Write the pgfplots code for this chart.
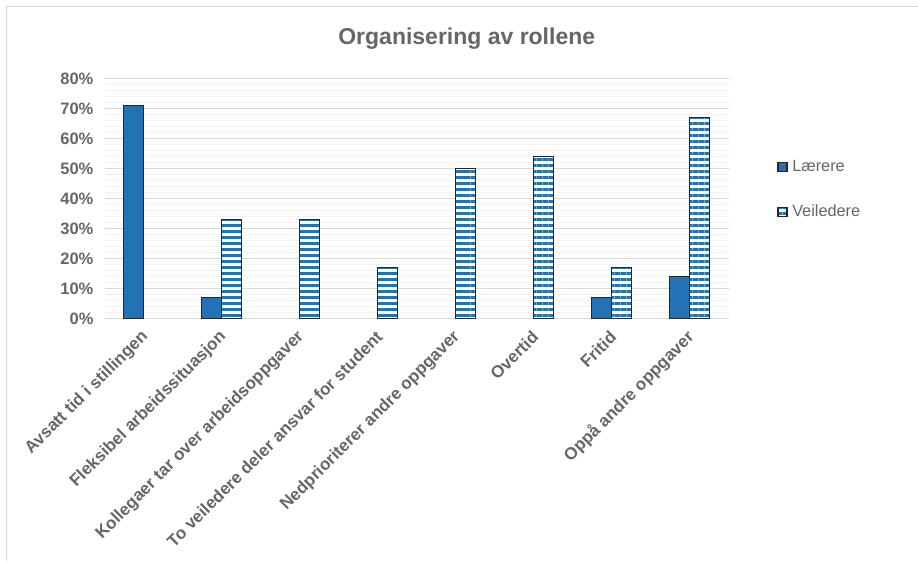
\documentclass[border=0pt]{standalone}
\usepackage{fontspec}
\setmainfont{Liberation Sans}
\usepackage{pgfplots}
\pgfplotsset{compat=1.18}
\usetikzlibrary{patterns.meta}
\definecolor{barblue}{RGB}{35,114,182}
\definecolor{txtgray}{RGB}{102,102,102}
\definecolor{gridmaj}{RGB}{217,217,217}
\definecolor{gridmin}{RGB}{242,242,242}
\definecolor{edge}{RGB}{38,38,38}
\begin{document}
\begin{tikzpicture}[x=1pt,y=1pt]
\path (0,0) rectangle (918,561);
\draw[gridmaj, line width=1pt] (7,0) -- (7,554) -- (918,554);
\node[font=\fontsize{23}{26}\selectfont\bfseries, text=txtgray] at (467,522) {Organisering av rollene};
\begin{axis}[
    at={(105pt,242pt)}, anchor=south west,
    width=624pt, height=240pt, scale only axis,
    ybar=0pt, bar width=20pt,
    xmin=-0.5, xmax=7.5, ymin=0, ymax=80,
    xtick={0,...,7},
    xticklabels={Avsatt tid i stillingen, Fleksibel arbeidssituasjon, Kollegaer tar over arbeidsoppgaver, To veiledere deler ansvar for student, Nedprioriterer andre oppgaver, Overtid, Fritid, Oppå andre oppgaver},
    ytick={0,10,...,80},
    yticklabel={\pgfmathprintnumber{\tick}\%},
    /pgf/number format/assume math mode=true,
    minor y tick num=4,
    ymajorgrids, yminorgrids,
    major grid style={gridmaj, line width=1pt},
    minor grid style={gridmin, line width=1pt},
    axis line style={draw=none},
    major tick length=0pt, minor tick length=0pt,
    tick label style={font=\fontsize{16.5}{19}\selectfont\bfseries, text=txtgray},
    yticklabel style={xshift=-8pt},
    xticklabel style={font=\fontsize{17}{19}\selectfont\bfseries, xshift=4pt, yshift=-13pt, rotate=45, anchor=east},
    legend style={at={(1.078,0.54)}, anchor=west, draw=none, fill=none,
        inner sep=0pt, row sep=28pt,
        font=\fontsize{16.3}{19}\selectfont, text=txtgray,
        legend cell align=left},
    legend image code/.code={\draw[#1] (0pt,-4.5pt) rectangle (9pt,4.5pt);},
]
\draw[gridmaj, line width=1.5pt] (rel axis cs:0,0) -- (rel axis cs:1,0);
\addplot[fill=barblue, draw=edge, line width=1.1pt, bar shift=-10pt]
    coordinates {(0,71) (1,7) (6,7) (7,14)};
\addplot[fill=white, draw=edge, line width=1.1pt, bar shift=10pt,
    postaction={pattern={Lines[angle=0, distance=6pt, line width=3.6pt]}, pattern color=barblue}]
    coordinates {(1,33) (2,33) (3,17) (4,50) (5,54) (6,17) (7,67)};
\legend{\,Lærere, \,Veiledere}
\end{axis}
\end{tikzpicture}
\end{document}
